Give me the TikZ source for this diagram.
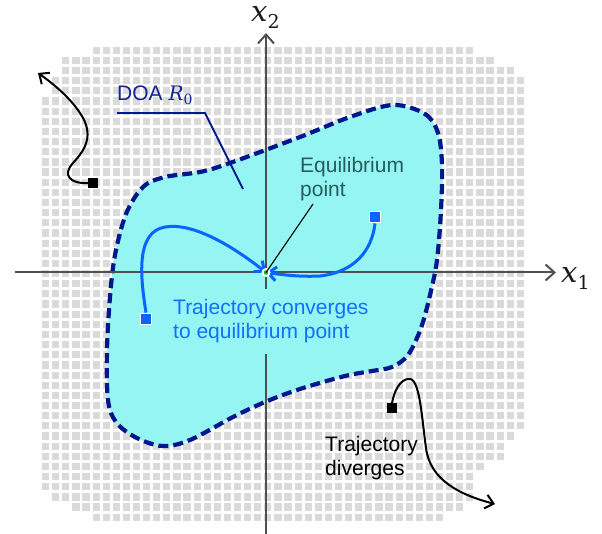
\documentclass[tikz,border=0pt]{standalone}
\usepackage{fontspec}
\setmainfont{Liberation Sans}
\newfontfamily\mfont{DejaVu Serif}
\usetikzlibrary{arrows.meta}
\definecolor{doafill}{RGB}{148,245,242}
\definecolor{doaline}{RGB}{0,24,140}
\definecolor{doatext}{RGB}{20,35,150}
\definecolor{trajblue}{RGB}{10,100,255}
\definecolor{convtext}{RGB}{20,110,255}
\definecolor{eqtext}{RGB}{35,95,95}
\definecolor{axisgray}{RGB}{80,80,80}
\definecolor{gridgray}{RGB}{218,218,218}
\definecolor{eqgreen}{RGB}{0,200,0}
\newcommand\axvar[1]{{\mfont\fontsize{29}{32}\selectfont\itshape x}\raisebox{-6.5pt}{\mfont\fontsize{19}{20}\selectfont #1}}
\begin{document}
\begin{tikzpicture}[x=1pt,y=-1pt,
  gridsq/.style={fill=gridgray},
  axisline/.style={draw=axisgray, line width=2pt, -{Straight Barb[length=9pt,width=16pt]}},
  doa/.style={fill=doafill, draw=doaline, line width=4.2pt, dash pattern=on 10pt off 5pt},
  lbl/.style={inner sep=0pt, anchor=base west, font=\fontsize{21}{24}\selectfont},
  mathlbl/.style={inner sep=0pt, anchor=base west, text=black!90},
  bluetraj/.style={draw=trajblue, line width=3pt, -{Straight Barb[length=8pt,width=14pt]}},
  blacktraj/.style={draw=black, line width=2pt, -{Straight Barb[length=8pt,width=14pt]}},
  bluesq/.style={draw=white, line width=1.8pt, fill=trajblue, minimum size=11pt, inner sep=0pt},
  blacksq/.style={fill=black, minimum size=9.5pt, inner sep=0pt},
  leader/.style={draw=doaline, line width=1.8pt},
  eqleader/.style={draw=black, line width=1.1pt}
]
\useasboundingbox (0,0) rectangle (602,534);
% grid of squares
\foreach \j/\a/\b in {0/5/42,1/2/44,2/2/46,3/1/47,4/1/47,38/0/46,39/0/45,40/0/45,41/0/43,42/0/42,43/0/42,44/1/42,45/3/41,46/5/39}{
  \foreach \i in {\a,...,\b}{
    \fill[gridsq] ({42+10.1*\i},{46.7+10.15*\j}) rectangle ++(7.2,7.2);
  }
}
\foreach \j in {5,...,37}{
  \foreach \i in {0,...,47}{
    \fill[gridsq] ({42+10.1*\i},{46.7+10.15*\j}) rectangle ++(7.2,7.2);
  }
}
% DOA region
\path[doa] plot[smooth cycle, tension=0.55] coordinates {
 (393,105) (425,114) (438,133) (442,165) (441,210) (437,260) (430,295)
 (421,328) (408,355) (392,367) (372,371) (345,376) (300,389) (265,402)
 (233,417) (190,440) (162,446) (135,437) (116,422) (108,400) (107,350)
 (110,297) (115,255) (126,214) (143,187) (165,177) (200,172) (230,163)
 (300,137) (350,117)};
% axes
\coordinate (eq) at (266,272.5);
\coordinate (xstart) at (15,272.5);
\coordinate (xend) at (556,272.5);
\coordinate (ystart) at (266,534);
\coordinate (yend) at (266,33);
\draw[axisline] (xstart) -- (xend);
\draw[axisline] (ystart) -- (yend);
\node[mathlbl] (x1) at (561,283) {\axvar{1}};
\node[mathlbl] (x2) at (251,22) {\axvar{2}};
% DOA label and leader
\node[lbl, text=doatext] (doa) at (117,101) {DOA {\mfont\fontsize{20}{24}\selectfont\itshape R}\raisebox{-4pt}{\mfont\fontsize{14}{16}\selectfont 0}};
\coordinate (doaknee) at (205,113);
\coordinate (doaend) at (243,189);
\draw[leader] (doa.base west |- doaknee) -- (doaknee) -- (doaend);
% labels
\node[lbl, text=eqtext] (eqlabel) at (300,172.7) {\vtop{\hbox{Equilibrium}\hbox{point}}};
\node[lbl, text=convtext, fill=doafill, inner ysep=11pt, inner xsep=3pt] (conv) at (170,315)
  {\vtop{\hbox{Trajectory converges}\hbox{to equilibrium point}}};
\node[lbl, text=black] (div) at (325,451) {\vtop{\hbox{Trajectory}\hbox{diverges}}};
% squares
\node[bluesq] (s1) at (146,319) {};
\node[bluesq] (s2) at (375,217) {};
\node[blacksq] (s3) at (93,183) {};
\node[blacksq] (s4) at (392,408) {};
% converging trajectories
\draw[bluetraj] (s1.north) .. controls (140,275) and (136,232) .. (165,227)
  .. controls (194,222) and (235,248) .. (eq);
\draw[bluetraj] (s2.south) .. controls (372,250) and (355,272) .. (320,276)
  .. controls (300,277) and (285,275) .. (eq);
% diverging trajectories
\coordinate (div1end) at (38,73);
\coordinate (div2end) at (495,504);
\draw[blacktraj] (s3.west) .. controls (70,184) and (62,175) .. (73,163)
  .. controls (85,150) and (95,135) .. (80,113)
  .. controls (70,98) and (55,85) .. (div1end);
\draw[blacktraj] (s4.north) .. controls (394,392) and (400,378) .. (410,379)
  .. controls (420,380) and (422,420) .. (426,448)
  .. controls (430,480) and (460,495) .. (div2end);
% equilibrium point
\fill[white] (eq) circle (4.5);
\fill[eqgreen] (eq) circle (2.3);
\coordinate (eqtip) at (313,204);
\draw[eqleader] (eqtip) -- (eq);
\end{tikzpicture}
\end{document}
